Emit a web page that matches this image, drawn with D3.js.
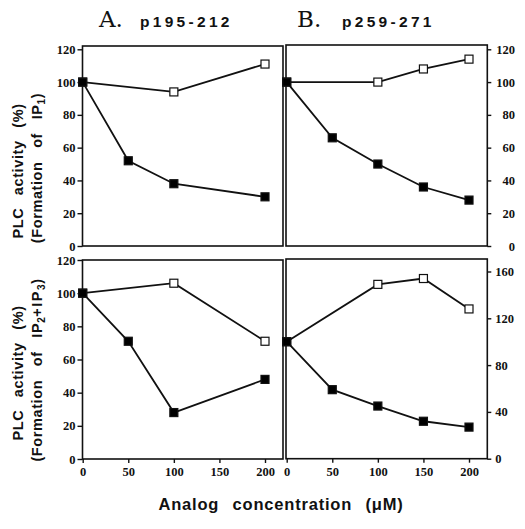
<!DOCTYPE html>
<html><head><meta charset="utf-8">
<script src="https://cdn.jsdelivr.net/npm/d3@7"></script>
<style>body{margin:0;background:#fff}svg{display:block}</style>
</head><body>
<svg id="c" width="525" height="529"></svg>
<script>
// ---- data ----
const concA_open = [0, 100, 200];
const concA_filled = [0, 50, 100, 200];
const concB_open = [0, 100, 150, 200];
const concB_filled = [0, 50, 100, 150, 200];
const ip1A_open = [100, 94, 111];
const ip1A_filled = [100, 52, 38, 30];
const ip1B_open = [100, 100, 108, 114];
const ip1B_filled = [100, 66, 50, 36, 28];
const ip23A_open = [100, 106, 71];
const ip23A_filled = [100, 71, 28, 48];
const ip23B_open = [100, 149, 154, 128];
const ip23B_filled = [100, 59, 45, 32, 27];
const xTicks = [0, 50, 100, 150, 200];
const yTicks120 = [0, 20, 40, 60, 80, 100, 120];
const yTicks160 = [0, 40, 80, 120, 160];

const svg = d3.select("#c");
const tickFont = "'Liberation Serif', 'Times New Roman', serif";
const sansFont = "'Liberation Sans', Arial, Helvetica, sans-serif";

const panels = [
  {xr:[82.7,265], box:[82.5,46,283,246], yd:[0,120], yr:[246,49.3], ticks:yTicks120, side:"left", bottom:false,
   open:[concA_open, ip1A_open], filled:[concA_filled, ip1A_filled]},
  {xr:[286.7,469], box:[286,45,487.3,246], yd:[0,120], yr:[246,49.3], ticks:yTicks120, side:"right", anchor:"end", bottom:false,
   open:[concB_open, ip1B_open], filled:[concB_filled, ip1B_filled]},
  {xr:[82.7,265], box:[82.5,260,283,459], yd:[0,120], yr:[459,260], ticks:yTicks120, side:"left", bottom:true,
   open:[concA_open, ip23A_open], filled:[concA_filled, ip23A_filled]},
  {xr:[286.7,469], box:[286,259,487.3,458.7], yd:[0,160], yr:[458.7,271.5], ticks:yTicks160, side:"right", anchor:"start", bottom:true,
   open:[concB_open, ip23B_open], filled:[concB_filled, ip23B_filled]}
];

panels.forEach(p => {
  const x = d3.scaleLinear().domain([0,200]).range(p.xr);
  const y = d3.scaleLinear().domain(p.yd).range(p.yr);
  const g = svg.append("g");
  const [x0,y0,x1,y1] = p.box;
  g.append("rect").attr("x",x0).attr("y",y0).attr("width",x1-x0).attr("height",y1-y0)
    .attr("fill","none").attr("stroke","#111").attr("stroke-width",1.6);
  if (p.side === "left") {
    const ax = g.append("g").attr("transform",`translate(${x0},0)`)
      .call(d3.axisLeft(y).tickValues(p.ticks).tickSize(5).tickPadding(2));
    ax.select(".domain").remove();
    ax.selectAll("line").attr("stroke","#111").attr("stroke-width",1.4);
    ax.selectAll("text").attr("font-family",tickFont).attr("font-weight","bold").attr("font-size",12.5).attr("fill","#111");
  } else {
    const ax = g.append("g").attr("transform",`translate(${x1},0)`)
      .call(d3.axisRight(y).tickValues(p.ticks).tickSize(4).tickPadding(4));
    ax.select(".domain").remove();
    ax.selectAll("line").attr("stroke","#111").attr("stroke-width",1.4);
    const t = ax.selectAll("text").attr("font-family",tickFont).attr("font-weight","bold").attr("font-size",12.5).attr("fill","#111");
    if (p.anchor === "end") t.attr("text-anchor","end").attr("x", 515 - x1);
  }
  if (p.bottom) {
    const ax = g.append("g").attr("transform",`translate(0,${y1})`)
      .call(d3.axisBottom(x).tickValues(xTicks).tickSize(4).tickPadding(4));
    ax.select(".domain").remove();
    ax.selectAll("line").attr("stroke","#111").attr("stroke-width",1.4);
    ax.selectAll("text").attr("font-family",tickFont).attr("font-weight","bold").attr("font-size",12.5).attr("fill","#111");
  }
  const line = d3.line().x(d => x(d[0])).y(d => y(d[1]));
  const series = [
    {d: d3.zip(p.open[0], p.open[1]), fill:"#fff"},
    {d: d3.zip(p.filled[0], p.filled[1]), fill:"#000"}
  ];
  series.forEach(s => {
    g.append("path").datum(s.d).attr("d", line).attr("fill","none").attr("stroke","#111").attr("stroke-width",1.8);
  });
  series.forEach(s => {
    g.selectAll(null).data(s.d).enter().append("rect")
      .attr("x", d => x(d[0]) - 4).attr("y", d => y(d[1]) - 4)
      .attr("width", 8).attr("height", 8)
      .attr("fill", s.fill).attr("stroke","#111").attr("stroke-width",1.2);
  });
});

function title(xA, xP, label, pep) {
  svg.append("text").attr("x",xA).attr("y",27).attr("font-family","'DejaVu Serif', serif")
    .attr("font-size",23).attr("fill","#111").text(label);
  svg.append("text").attr("x",xP).attr("y",27).attr("font-family",sansFont).attr("font-weight","bold")
    .attr("font-size",15.5).attr("letter-spacing",3.3).attr("fill","#111").text(pep);
}
title(99, 140, "A.", "p195-212");
title(297, 342, "B.", "p259-271");

function ylabel(cy, sub) {
  const t1 = svg.append("text").attr("transform",`translate(23,${cy}) rotate(-90)`).attr("text-anchor","middle")
    .attr("font-family",sansFont).attr("font-weight","bold").attr("font-size",14.5).attr("fill","#111")
    .attr("word-spacing",8).attr("letter-spacing",0.6);
  t1.text("PLC activity (%)");
  const t2 = svg.append("text").attr("transform",`translate(42,${cy - 3}) rotate(-90)`).attr("text-anchor","middle")
    .attr("font-family",sansFont).attr("font-weight","bold").attr("font-size",14.5).attr("fill","#111")
    .attr("word-spacing",9).attr("letter-spacing",0.6);
  sub(t2);
}
ylabel(171, t => {
  t.append("tspan").text("(Formation of IP");
  t.append("tspan").attr("font-size",10).attr("dy",3).text("1");
  t.append("tspan").attr("dy",-3).text(")");
});
ylabel(373, t => {
  t.append("tspan").text("(Formation of IP");
  t.append("tspan").attr("font-size",10).attr("dy",3).text("2");
  t.append("tspan").attr("dy",-3).attr("letter-spacing",1.5).text("+IP");
  t.append("tspan").attr("font-size",10).attr("dy",3).text("3");
  t.append("tspan").attr("dy",-3).text(")");
});

svg.append("text").attr("x",281).attr("y",510).attr("text-anchor","middle")
  .attr("font-family",sansFont).attr("font-weight","bold").attr("font-size",16.5).attr("fill","#111")
  .attr("word-spacing",8).attr("letter-spacing",0.8).text("Analog concentration (\u03BCM)");
</script>
</body></html>
